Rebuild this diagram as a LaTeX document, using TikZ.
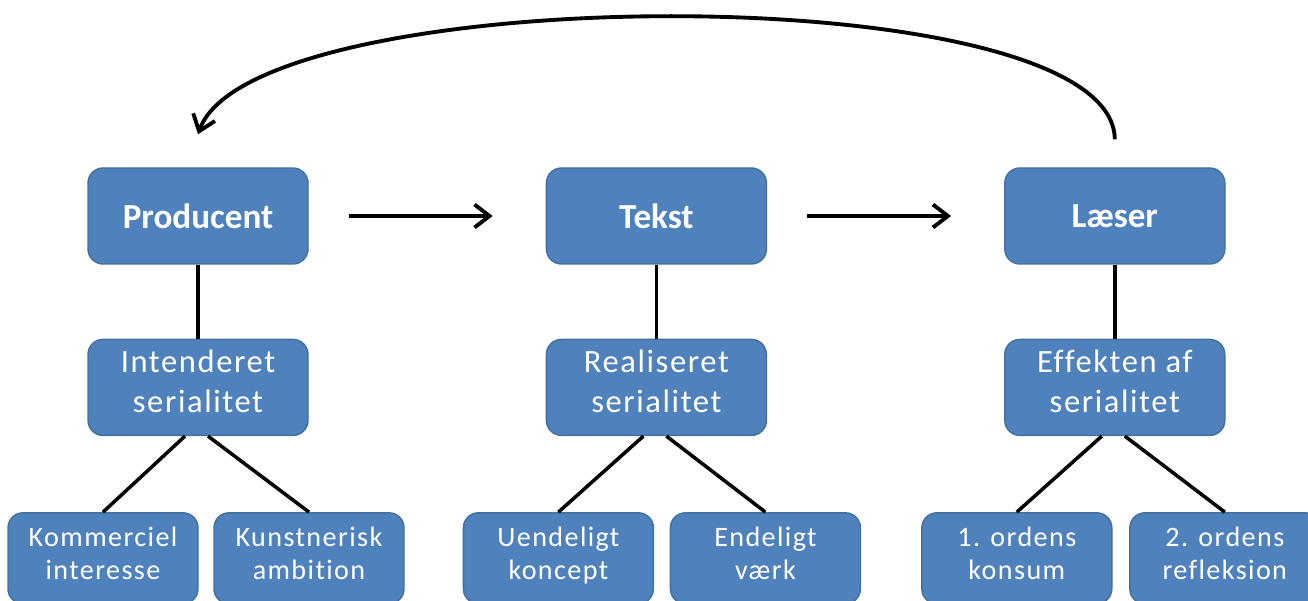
\documentclass[tikz,border=0pt]{standalone}
\usepackage{fontspec}
\setmainfont{Carlito}
\newfontfamily\spaced[LetterSpace=5, Ligatures=NoCommon]{Carlito}
\usetikzlibrary{shapes.geometric, arrows, arrows.meta, positioning, fit}
\definecolor{boxblue}{HTML}{4F81BD}
\definecolor{boxedge}{HTML}{41719C}

\begin{document}
\begin{tikzpicture}[node distance = 1.48cm and 4.74cm]
      \tikzstyle{headbox} = [rectangle, rounded corners = 3mm, fill = boxblue, draw = boxedge, thick, minimum width = 4.4cm, minimum height = 1.92cm, text = white, font = \fontsize{20}{23}\selectfont\bfseries]
      \tikzstyle{midbox} = [headbox, align = center, execute at begin node = \rule{0pt}{0.84em}, execute at end node = \strut, font = \spaced\fontsize{18.5}{22.7}\selectfont]
      \tikzstyle{leafbox} = [midbox, minimum width = 3.8cm, minimum height = 1.82cm, font = \spaced\fontsize{16}{18.7}\selectfont]
      \tikzstyle{connect} = [-{Straight Barb[length = 3mm, width = 4.6mm]}, line width = 2.2pt]
      \tikzstyle{link} = [line width = 2pt]
      \useasboundingbox (0,0) rectangle (26.16,-12.02);
      \node[headbox] (prod) at (3.96,-4.32) {Producent};
      \node[headbox, right=of prod] (tekst) {Tekst};
      \node[headbox, right=of tekst] (laeser) {Læser};
      \node[midbox, below=of prod] (int) {Intenderet\\serialitet};
      \node[midbox, below=of tekst] (real) {Realiseret\\serialitet};
      \node[midbox, below=of laeser] (eff) {Effekten af\\serialitet};
      \node[leafbox, below=1.52cm of int, xshift=-1.9cm] (komm) {Kommerciel\\interesse};
      \node[leafbox, below=1.52cm of int, xshift=2.22cm] (kunst) {Kunstnerisk\\ambition};
      \node[leafbox, below=1.52cm of real, xshift=-1.96cm] (uend) {Uendeligt\\koncept};
      \node[leafbox, below=1.52cm of real, xshift=2.18cm] (endl) {Endeligt\\værk};
      \node[leafbox, below=1.52cm of eff, xshift=-1.96cm] (konsum) {1. ordens\\konsum};
      \node[leafbox, below=1.52cm of eff, xshift=2.2cm] (refl) {2. ordens\\refleksion};
      \coordinate (loopstart) at ([yshift=0.56cm]laeser.north);
      \coordinate (loopend) at ([yshift=0.66cm]prod.north);
      \draw[link] (prod) -- (int) (tekst) -- (real) (laeser) -- (eff);
      \draw[link] ([xshift=-0.26cm]int.south) -- (komm.north) ([xshift=0.2cm]int.south) -- (kunst.north);
      \draw[link] ([xshift=-0.26cm]real.south) -- (uend.north) ([xshift=0.2cm]real.south) -- (endl.north);
      \draw[link] ([xshift=-0.26cm]eff.south) -- (konsum.north) ([xshift=0.2cm]eff.south) -- (refl.north);
      \draw[connect] ([xshift=0.8cm]prod.east) -- ([xshift=-1.06cm]tekst.west);
      \draw[connect] ([xshift=0.8cm]tekst.east) -- ([xshift=-1.06cm]laeser.west);
      \draw[connect] (loopstart) .. controls +(-0.04,3.3) and +(1.1,3.1) .. (loopend);
    \end{tikzpicture}
\end{document}
